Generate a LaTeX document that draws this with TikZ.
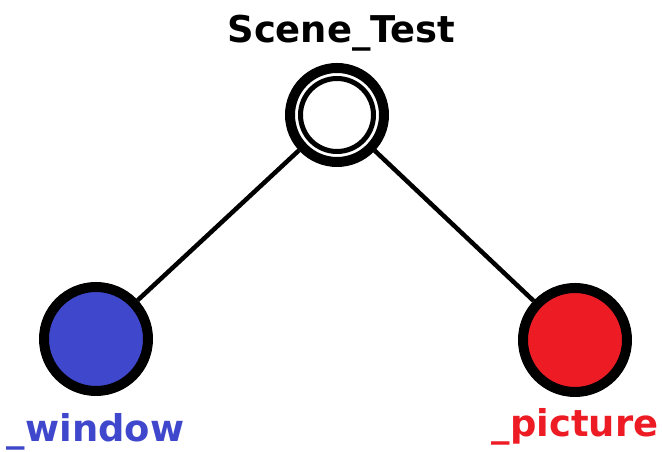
\documentclass[tikz,border=0pt]{standalone}
\usepackage{fontspec}
\setmainfont{DejaVu Sans}
\usepackage{tikz}

\definecolor{paintblue}{HTML}{3F48CC}
\definecolor{paintred}{HTML}{ED1C24}

\tikzset{
  leaf/.style={circle, draw=black, line width=0.2cm, minimum size=2.08cm, inner sep=0pt},
  root/.style={circle, draw=black, fill=white, line width=0.2cm, minimum size=1.88cm, inner sep=0pt},
  edge/.style={line width=0.09cm},
  tag/.style={font=\bfseries\fontsize{21}{24}\selectfont, anchor=base}
}

\begin{document}
\begin{tikzpicture}
\useasboundingbox (0,0) rectangle (13.24,9.04);

% Scene root (double ring)
\node[root] (scene) at (6.74, 6.74) {};
\draw[line width=0.1cm] (scene.center) circle (0.73);
\node[tag] (scenelabel) at (6.83, 8.18) {Scene\_Test};

% Children
\node[leaf, fill=paintblue] (window) at (1.92, 2.26) {};
\node[leaf, fill=paintred] (picture) at (11.5, 2.24) {};

\node[tag, text=paintblue] (windowlabel) at (1.91, 0.2) {\_window};
\node[tag, text=paintred] (picturelabel) at (11.5, 0.3) {\_picture};

% Edges
\draw[edge] (scene) -- (window);
\draw[edge] (scene) -- (picture);
\end{tikzpicture}
\end{document}
